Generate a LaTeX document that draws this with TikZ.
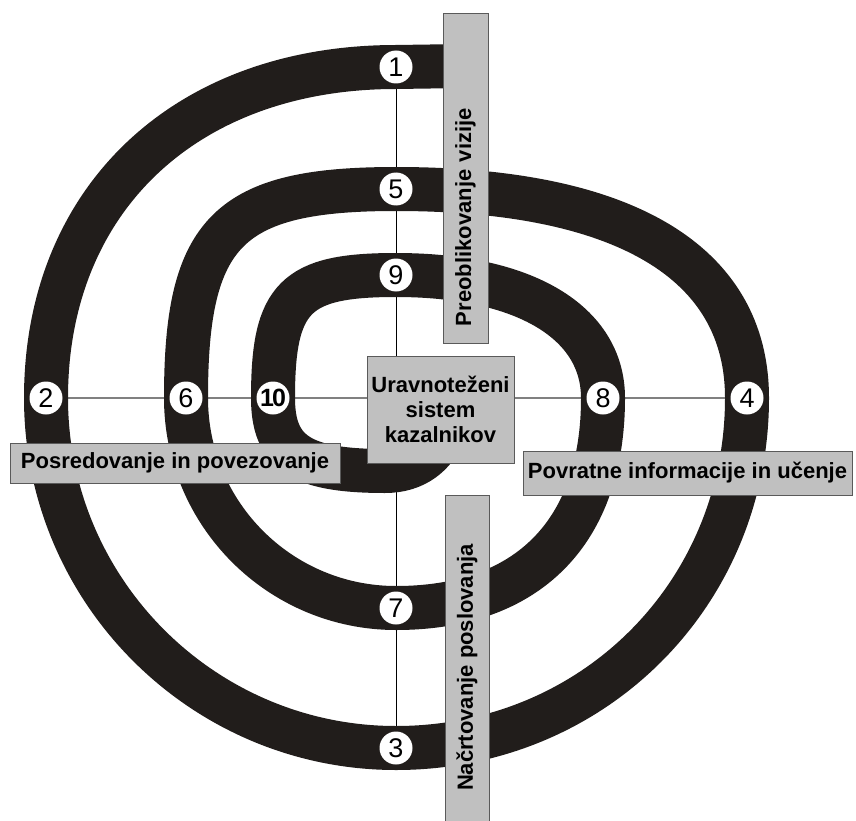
\documentclass[tikz,border=0pt]{standalone}
\usepackage{fontspec}
\setmainfont{Liberation Sans}

\definecolor{bandblack}{RGB}{33,29,27}
\definecolor{boxfill}{RGB}{192,192,192}
\definecolor{boxline}{RGB}{90,90,90}

\tikzset{
  num/.style={circle, fill=white, inner sep=0pt, minimum size=33pt,
    font=\fontsize{27}{27}\selectfont},
  labelbox/.style={draw=boxline, line width=1pt, fill=boxfill, inner sep=0pt,
    font=\bfseries\fontsize{22}{25}\selectfont},
}

\begin{document}
\begin{tikzpicture}[x=1pt,y=-1pt]
\useasboundingbox (0,0) rectangle (856,821);

\coordinate (p1) at (396,67);
\coordinate (p2) at (46,398);
\coordinate (p3) at (396,748);
\coordinate (p4) at (747,398);
\coordinate (p5) at (396,189);
\coordinate (p6) at (186,398);
\coordinate (p7) at (396,608);
\coordinate (p8) at (603,398);
\coordinate (p9) at (396,275);
\coordinate (p10) at (273,398);

\draw[gray, line width=1.3pt] (p2) -- (p4);
\draw[black, line width=0.8pt] (p1) -- (p3);

\draw[bandblack, line width=44pt, line join=round] (465,66) -- (p1)
  .. controls (186,67) and (46,199) .. (p2)
  .. controls (46,591) and (203,748) .. (p3)
  .. controls (593,748) and (747,594) .. (p4)
  .. controls (747,262) and (624,189) .. (p5)
  .. controls (228,189) and (186,231) .. (p6)
  .. controls (186,514) and (280,608) .. (p7)
  .. controls (528,608) and (603,532) .. (p8)
  .. controls (603,322) and (524,275) .. (p9)
  .. controls (295,275) and (273,297) .. (p10)
  .. controls (273,453) and (301,471) .. (385,471)
  .. controls (415,471) and (435,455) .. (445,430);

\node[num] (n1) at (p1) {1};
\node[num] (n2) at (p2) {2};
\node[num] (n3) at (p3) {3};
\node[num] (n4) at (p4) {4};
\node[num] (n5) at (p5) {5};
\node[num] (n6) at (p6) {6};
\node[num] (n7) at (p7) {7};
\node[num] (n8) at (p8) {8};
\node[num] (n9) at (p9) {9};
\node[num, font=\bfseries\fontsize{25}{25}\selectfont] (n10) at (p10) {1\kern-2pt0};

\node[labelbox, rotate=90, minimum width=329pt, minimum height=45pt,
  text width=295pt, align=left, inner xsep=17pt] (vision) at (465.5,178.5)
  {Preoblikovanje vizije};
\node[labelbox, rotate=90, minimum width=345pt, minimum height=44pt]
  (planning) at (467,667.5) {Načrtovanje poslovanja};
\node[labelbox, minimum width=330pt, minimum height=40pt] (linking) at (175,463)
  {Posredovanje in povezovanje};
\node[labelbox, minimum width=329pt, minimum height=44pt] (feedback) at (687.5,473)
  {Povratne informacije in učenje};
\node[labelbox, minimum width=147pt, minimum height=107pt, align=center]
  (scorecard) at (440.5,409.5) {Uravnoteženi\\sistem\\kazalnikov};
\end{tikzpicture}
\end{document}
